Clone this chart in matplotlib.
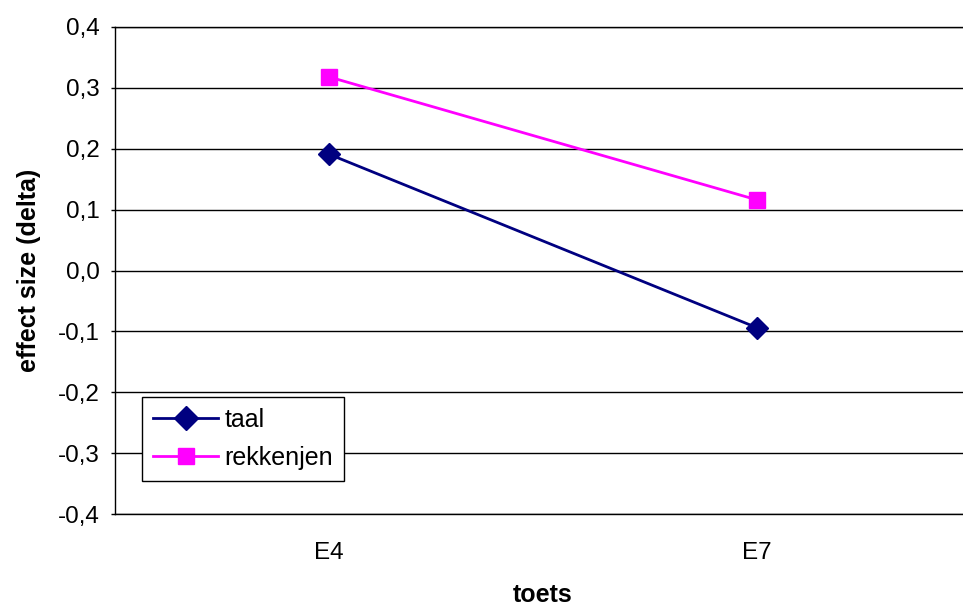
import matplotlib
matplotlib.use("Agg")
import matplotlib.pyplot as plt

categories = ["E4", "E7"]
taal = [0.191, -0.094]
rekkenjen = [0.318, 0.116]
yticks = [-0.4, -0.3, -0.2, -0.1, 0.0, 0.1, 0.2, 0.3, 0.4]
ytick_labels = ["-0,4", "-0,3", "-0,2", "-0,1", "0,0", "0,1", "0,2", "0,3", "0,4"]

plt.rcParams['font.family'] = ['Liberation Sans', 'DejaVu Sans']

fig = plt.figure(figsize=(9.63, 6.08), dpi=100)
ax = fig.add_axes([115/963, 1-514/608, 856/963, (514-27)/608])

x = list(range(len(categories)))
ax.plot(x, taal, color="#000080", marker="D", markersize=11, linewidth=2, label="taal", zorder=3)
ax.plot(x, rekkenjen, color="#FF00FF", marker="s", markersize=11, linewidth=2, label="rekkenjen", zorder=3)

ax.set_xlim(-0.5, 1.5)
ax.set_ylim(-0.4, 0.4)
ax.set_xticks(x)
ax.set_xticklabels(categories)
ax.set_yticks(yticks)
ax.set_yticklabels(ytick_labels)
ax.grid(axis="y", color="black", linewidth=1)
ax.set_axisbelow(True)
ax.tick_params(axis="y", length=3, width=1, labelsize=17.5, pad=8)
ax.tick_params(axis="x", length=0, labelsize=17.5, pad=20)
for s in ["left", "bottom", "top"]:
    ax.spines[s].set_color("black")
    ax.spines[s].set_linewidth(1)
ax.spines["right"].set_visible(False)

ax.set_ylabel("effect size (delta)", fontsize=18, fontweight="bold", labelpad=12)
ax.set_xlabel("toets", fontsize=18, fontweight="bold", labelpad=14)

leg = ax.legend(loc="lower left", bbox_to_anchor=((142-115)/856, (514-481)/487),
                frameon=True, fancybox=False, edgecolor="black", framealpha=1,
                fontsize=18, handlelength=2.6, handletextpad=0.25, borderpad=0.45,
                labelspacing=0.55, borderaxespad=0, markerscale=1.1)
leg.get_frame().set_linewidth(1)

fig.savefig("out.png", dpi=100)
